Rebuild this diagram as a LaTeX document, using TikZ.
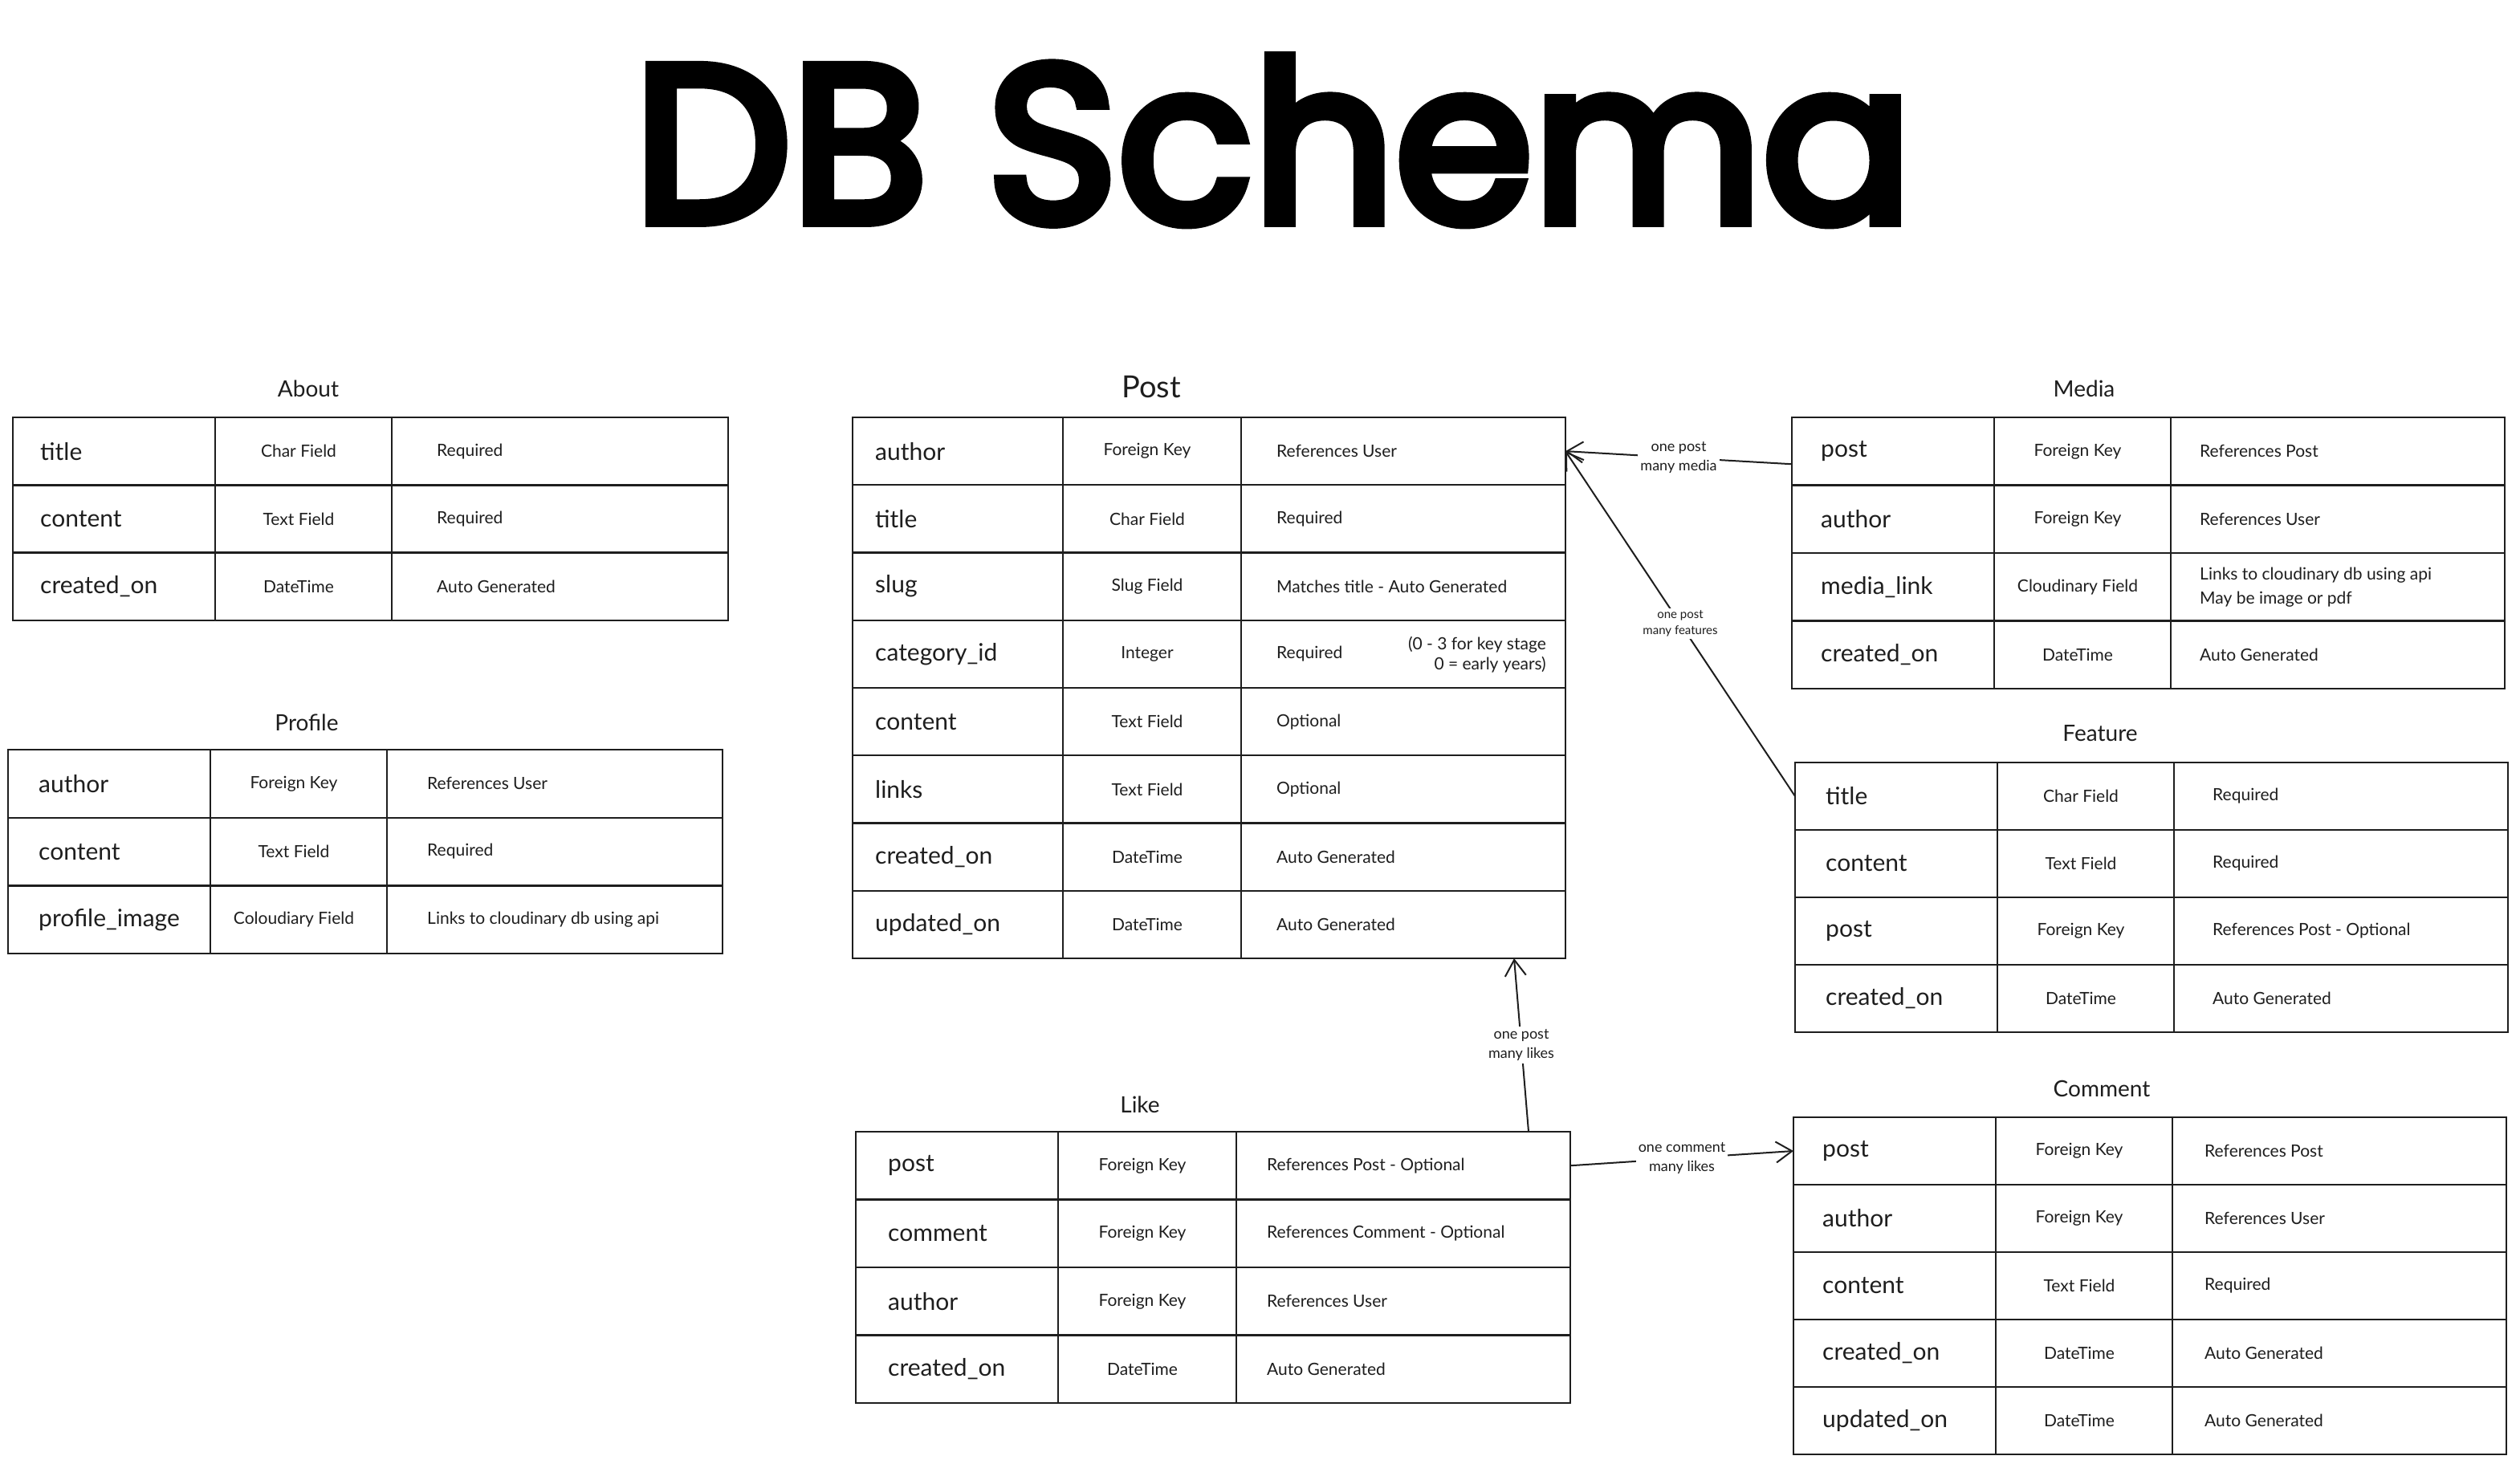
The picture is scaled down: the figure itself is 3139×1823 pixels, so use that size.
\documentclass[tikz,border=0pt]{standalone}
\usepackage{fontspec}
\setmainfont{Lato}
\newfontfamily\titlefont[FakeBold=5]{Poppins}
\usetikzlibrary{arrows.meta}
\definecolor{ink}{HTML}{1E1E1E}
\tikzset{
  rowbox/.style={draw=ink, line width=2.4pt, inner sep=0pt, outer sep=0pt, anchor=north west},
  colline/.style={draw=ink, line width=1.3pt},
  fld/.style={anchor=west, inner sep=0pt, font=\fontsize{30}{34}\selectfont, text=ink},
  typ/.style={anchor=center, inner sep=0pt, font=\fontsize{21}{25}\selectfont, text=ink},
  dsc/.style={anchor=west, inner sep=0pt, align=left, font=\fontsize{21}{30}\selectfont, text=ink},
  tname/.style={inner sep=0pt, font=\fontsize{28}{32}\selectfont, text=ink},
  rel/.style={draw=ink, line width=2pt, -{Straight Barb[length=20pt,width=26pt]}},
  rellabel/.style={fill=white, inner sep=3pt, align=center, font=\fontsize{18}{24}\selectfont, text=ink},
}
% #1 prefix, #2 left, #3 top, #4 first column line, #5 second column line, #6 right, #7 row height, #8 rows
\newcommand\dbtable[8]{%
  \foreach [count=\i] \f/\t/\d in {#8} {
    \node[rowbox, minimum width={(#6-#2)*1pt}, minimum height={#7*1pt}] (#1-\i) at (#2,{#3+(\i-1)*#7}) {};
    \draw[colline] (#4,{#3+(\i-1)*#7}) -- (#4,{#3+\i*#7});
    \draw[colline] (#5,{#3+(\i-1)*#7}) -- (#5,{#3+\i*#7});
    \node[fld] (#1-\i-f) at ({#2+\offa},{#3+(\i-0.5)*#7}) {\f};
    \node[typ] (#1-\i-t) at ({(#4+#5)/2-6},{#3+(\i-0.5)*#7}) {\t};
    \node[dsc] (#1-\i-d) at ({#5+\offc},{#3+(\i-0.5)*#7}) {\d};
  }}
\begin{document}
\begin{tikzpicture}[x=1pt,y=-1pt]
\fill[white] (0,0) rectangle (3139,1823);
\useasboundingbox (0,0) rectangle (3139,1823);

\node[anchor=base, inner sep=0pt, text=black] (title) at (1586,276) {\resizebox{1590pt}{!}{\titlefont DB Schema}};

% About
\node[tname] (about-name) at (384,484) {About};
\def\offa{34}\def\offc{56}
\dbtable{about}{16}{520}{268}{488}{907}{84.3}{title/Char Field/Required, content/Text Field/Required, created\_on/DateTime/Auto Generated}

% Profile
\node[tname] (profile-name) at (382,900) {Profile};
\def\offa{38}\def\offc{50}
\dbtable{profile}{10}{934}{262}{482}{900}{84.7}{author/Foreign Key/References User, content/Text Field/Required, profile\_image/Coloudiary Field/Links to cloudinary db using api}

% Post
\node[tname, font=\fontsize{38}{42}\selectfont] (post-name) at (1434,482) {Post};
\def\offa{28}\def\offc{44}
\dbtable{post}{1062}{520}{1324}{1546}{1950}{84.25}{author/Foreign Key/References User, title/Char Field/Required, slug/Slug Field/Matches title - Auto Generated, category\_id/Integer/Required, content/Text Field/Optional, links/Text Field/Optional, created\_on/DateTime/Auto Generated, updated\_on/DateTime/Auto Generated}
\node[dsc, anchor=east, align=right, font=\fontsize{21}{25}\selectfont] (post-note) at (1926,816) {(0 - 3 for key stage\\0 = early years)};

% Media
\node[tname] (media-name) at (2596,484) {Media};
\def\offa{36}\def\offc{36}
\dbtable{media}{2232}{520}{2484}{2704}{3120}{84.5}{post/Foreign Key/References Post, author/Foreign Key/References User, media\_link/Cloudinary Field/{Links to cloudinary db using api\\May be image or pdf}, created\_on/DateTime/Auto Generated}

% Feature
\node[tname] (feature-name) at (2616,914) {Feature};
\def\offa{38}\def\offc{48}
\dbtable{feature}{2236}{950}{2488}{2708}{3124}{84}{title/Char Field/Required, content/Text Field/Required, post/Foreign Key/References Post - Optional, created\_on/DateTime/Auto Generated}

% Like
\node[tname] (like-name) at (1420,1376) {Like};
\def\offa{40}\def\offc{38}
\dbtable{like}{1066}{1410}{1318}{1540}{1956}{84.5}{post/Foreign Key/References Post - Optional, comment/Foreign Key/References Comment - Optional, author/Foreign Key/References User, created\_on/DateTime/Auto Generated}

% Comment
\node[tname] (comment-name) at (2618,1356) {Comment};
\def\offa{36}\def\offc{40}
\dbtable{comment}{2234}{1392}{2486}{2706}{3122}{84}{post/Foreign Key/References Post, author/Foreign Key/References User, content/Text Field/Required, created\_on/DateTime/Auto Generated, updated\_on/DateTime/Auto Generated}

% Relations
\draw[rel] ([yshift=-16pt]media-1.west) -- (post-1.east)
  node[rellabel, pos=0.5] (lbl-media) {one post\\many media};
\draw[rel] (feature-1.west) -- (post-1.east)
  node[rellabel, pos=0.5, font=\fontsize{15}{20}\selectfont] (lbl-feature) {one post\\many features};
\draw[rel] ([xshift=-52pt]like-1.north east) -- ([xshift=-64pt]post-8.south east)
  node[rellabel, pos=0.5] (lbl-likes) {one post\\many likes};
\draw[rel] (like-1.east) -- (comment-1.west)
  node[rellabel, pos=0.5] (lbl-comment) {one comment\\many likes};
\end{tikzpicture}
\end{document}
